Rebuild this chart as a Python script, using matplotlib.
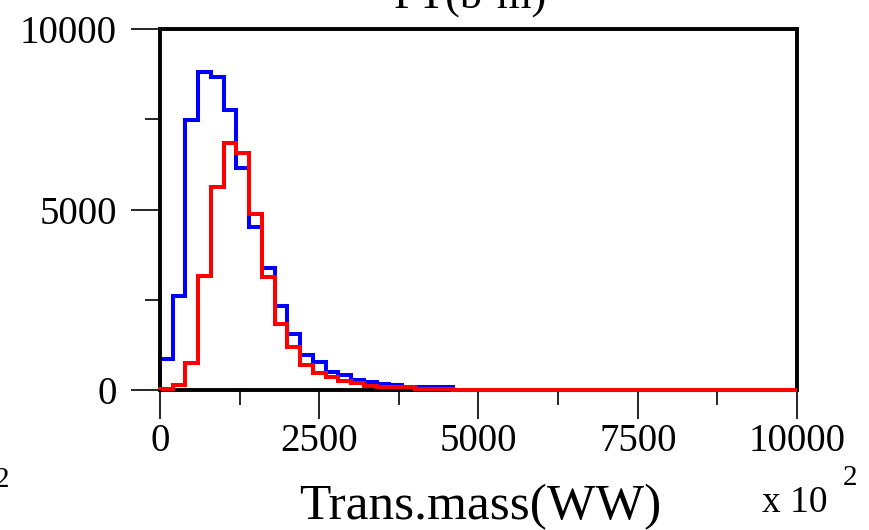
import numpy as np
import matplotlib
matplotlib.use('Agg')
import matplotlib.pyplot as plt

plt.rcParams['font.family'] = ['Liberation Serif', 'DejaVu Serif']

# bin edges (200 wide, 0..10000)
bin_edges = list(range(0, 10001, 200))

# blue histogram (bin contents)
blue_counts = [850, 2600, 7480, 8820, 8680, 7760, 6140, 4520, 3390, 2320,
               1540, 970, 780, 510, 415, 280, 230, 160, 140, 95,
               80, 90, 90] + [0] * 27

# red histogram
red_counts = [30, 150, 757, 3160, 5630, 6830, 6570, 4880, 3130, 1820,
              1180, 693, 462, 370, 250, 185, 110, 90, 75, 70,
              40, 20, 20] + [10] * 27

x_major = [0, 2500, 5000, 7500, 10000]
x_minor = [1250, 3750, 6250, 8750]
y_major = [0, 5000, 10000]
y_minor = [2500, 7500]

fig = plt.figure(figsize=(8.69, 5.30), dpi=100)
ax = fig.add_axes([160 / 869, 140 / 530, 637 / 869, 361 / 530])

ax.stairs(blue_counts, bin_edges, color='#0000ff', linewidth=2.9, baseline=0, clip_on=False)
ax.stairs(red_counts, bin_edges, color='#ff0000', linewidth=2.9, baseline=0, clip_on=False, zorder=3)

ax.set_xlim(0, 10000)
ax.set_ylim(0, 10000)

ax.set_xticks(x_major)
ax.set_xticks(x_minor, minor=True)
ax.set_yticks(y_major)
ax.set_yticks(y_minor, minor=True)
ax.set_xticklabels([str(v) for v in x_major])
ax.set_yticklabels([str(v) for v in y_major])

ax.tick_params(which='major', direction='out', length=21, width=1.2, labelsize=28, color='black')
ax.tick_params(which='minor', direction='out', length=11, width=1.2, color='black')
ax.tick_params(axis='y', which='major', pad=10)
ax.tick_params(axis='x', which='major', pad=3)

for side in ['left', 'right', 'top', 'bottom']:
    ax.spines[side].set_linewidth(2.8)
    ax.spines[side].set_color('black')

# axis label and the "x 10^2" factor
fig.text(480 / 869, 11 / 530, 'Trans.mass(WW)', fontsize=37, ha='center', va='baseline')
fig.text(762 / 869, 18 / 530, 'x 10', fontsize=27, ha='left', va='baseline')
fig.text(843 / 869, 45 / 530, '2', fontsize=21, ha='left', va='baseline')

# clipped pieces from neighbouring panels
fig.text(-5 / 869, 43 / 530, '2', fontsize=21, ha='left', va='baseline')
fig.text(470 / 869, 522 / 530, 'PT(b-m)', fontsize=32, ha='center', va='baseline')

fig.savefig('out.png', dpi=100)
